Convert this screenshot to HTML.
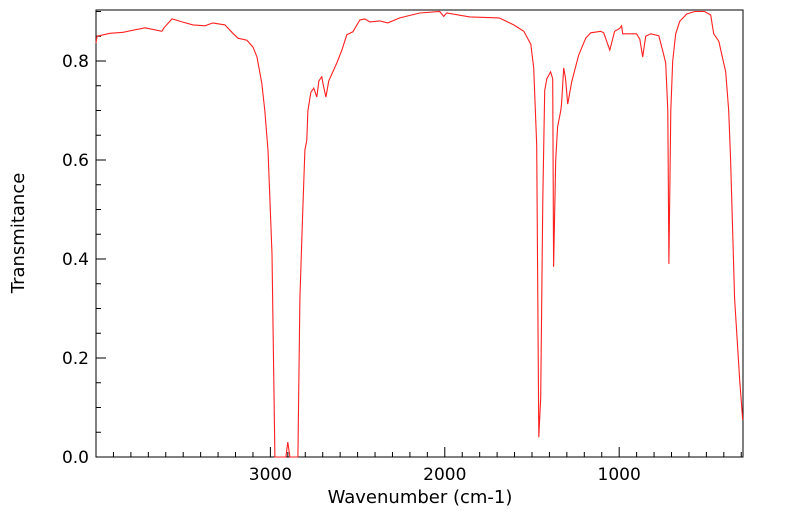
<!DOCTYPE html>
<html><head><meta charset="utf-8"><style>
body{margin:0;background:#fff}
svg{display:block;font-family:"DejaVu Sans","Liberation Sans",sans-serif}
</style></head><body>
<svg id="chart" width="799" height="516"></svg>
<script>
const wavenumbers=[4000,3994,3920,3845,3719,3622,3610,3564,3507,3444,3375,3330,3261,3215,3186,3135,3100,3077,3049,3032,3014,2991,2974,2911,2900,2888,2842,2831,2814,2802,2791,2785,2768,2751,2734,2722,2705,2699,2682,2665,2619,2590,2562,2527,2487,2458,2430,2372,2327,2258,2143,2029,2006,1989,1857,1688,1605,1547,1507,1490,1473,1461,1450,1438,1427,1415,1393,1381,1376,1364,1353,1335,1330,1318,1307,1295,1272,1232,1192,1163,1106,1089,1054,1026,997,986,980,900,882,865,848,819,773,750,733,721,715,704,693,676,653,613,567,510,475,458,429,389,372,361,338,309,292];
const transmittance=[0.836,0.85,0.856,0.858,0.867,0.86,0.867,0.885,0.879,0.873,0.871,0.877,0.873,0.856,0.846,0.842,0.828,0.808,0.755,0.70,0.62,0.41,0,0,0.03,0,0,0.32,0.5,0.62,0.64,0.70,0.737,0.745,0.727,0.76,0.768,0.755,0.727,0.76,0.796,0.822,0.853,0.859,0.883,0.885,0.879,0.881,0.877,0.887,0.897,0.90,0.89,0.897,0.889,0.887,0.873,0.86,0.834,0.786,0.63,0.04,0.12,0.52,0.74,0.764,0.778,0.764,0.384,0.6,0.667,0.70,0.715,0.786,0.764,0.713,0.758,0.812,0.846,0.857,0.86,0.857,0.822,0.86,0.866,0.871,0.855,0.855,0.844,0.808,0.85,0.855,0.851,0.82,0.796,0.70,0.39,0.70,0.80,0.855,0.88,0.895,0.90,0.90,0.893,0.855,0.84,0.778,0.70,0.6,0.32,0.155,0.075];
const xMajor=[3000,2000,1000];
const yMajor=[0.0,0.2,0.4,0.6,0.8];
const L=96,R=743,T=10,B=457,XMAX=4000,XMIN=290,YMAX=0.903;
const xs=v=>L+(XMAX-v)/(XMAX-XMIN)*(R-L);
const ys=v=>B-v/YMAX*(B-T);
const svg=document.getElementById('chart');
const NS='http://www.w3.org/2000/svg';
function mk(t,a,p){const e=document.createElementNS(NS,t);for(const k in a)e.setAttribute(k,a[k]);(p||svg).appendChild(e);return e;}
const frame=mk('rect',{x:L,y:T,width:R-L,height:B-T,fill:'none',stroke:'#000','stroke-width':1});


const xt=mk('g',{});


for(let w=3900;w>=XMIN;w-=100){const x=xs(w);const maj=w%1000===0;
 mk('line',{x1:x,x2:x,y1:B,y2:B-(maj?10:5),stroke:'#000'},xt);}
xMajor.forEach(w=>{const t=mk('text',{x:xs(w),y:B+23,'text-anchor':'middle','font-size':17},xt);t.textContent=String(w);
 
 });
const yt=mk('g',{});


for(let i=1;i*0.05<=YMAX;i++){const v=i*0.05;const y=ys(v);const maj=i%4===0;
 mk('line',{x1:L,x2:L+(maj?10:5),y1:y,y2:y,stroke:'#000'},yt);}
yMajor.forEach(v=>{const t=mk('text',{x:L-7,y:ys(v)+6,'text-anchor':'end','font-size':17},yt);t.textContent=v.toFixed(1);
 
 });
const xl=mk('text',{x:420,y:503,'text-anchor':'middle','font-size':18});xl.textContent='Wavenumber (cm-1)';


const yl=mk('text',{x:24,y:233,'text-anchor':'middle','font-size':18,transform:'rotate(-90 24 233)'});yl.textContent='Transmitance';


const d=wavenumbers.map((w,i)=>(i?'L':'M')+xs(w).toFixed(1)+','+ys(transmittance[i]).toFixed(1)).join('');
const line=mk('path',{d:d,fill:'none',stroke:'#ff2020','stroke-width':1.1});


</script>
</body></html>
